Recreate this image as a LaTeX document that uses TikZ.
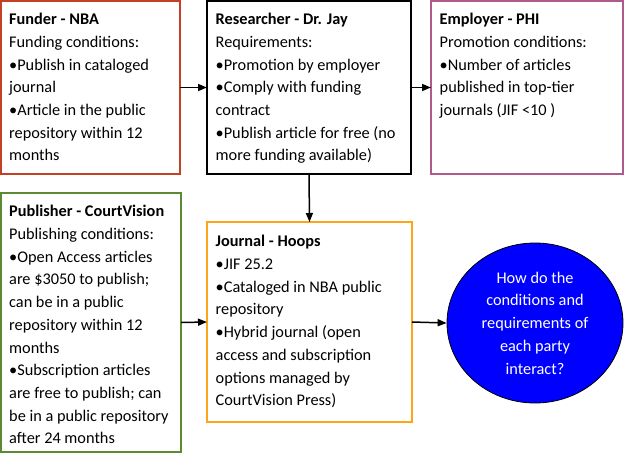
\documentclass[tikz,border=0pt]{standalone}
\usepackage{fontspec}
\setmainfont{Carlito}
\usetikzlibrary{arrows.meta,shapes.geometric}
\definecolor{fundred}{HTML}{C44024}
\definecolor{pubgreen}{HTML}{5A8A32}
\definecolor{emppink}{HTML}{B05A8C}
\definecolor{jrnorange}{HTML}{FFA31A}
\definecolor{qblue}{HTML}{0000FF}
\begin{document}
\begin{tikzpicture}[x=1pt,y=-1pt,
  box/.style={draw,line width=2pt,inner sep=0pt,outer sep=0pt},
  txt/.style={anchor=north west,align=left,inner sep=0pt,
    font=\fontsize{16.3}{22.7}\selectfont},
  conn/.style={line width=1.5pt,-{Triangle[length=9pt,width=7pt]}}]
\useasboundingbox (0,0) rectangle (624,453);
% boxes
\node[box,draw=fundred,minimum width=179pt,minimum height=173pt] (funder) at (90.5,87.5) {};
\node[box,draw=black,minimum width=204pt,minimum height=173pt] (res) at (309,87.5) {};
\node[box,draw=emppink,minimum width=192pt,minimum height=173pt] (emp) at (527,87.5) {};
\node[box,draw=pubgreen,minimum width=180pt,minimum height=259pt] (pub) at (91,322.5) {};
\node[box,draw=jrnorange,minimum width=205pt,minimum height=200pt] (jrn) at (309.5,322) {};
\node[draw=black,line width=0.8pt,fill=qblue,ellipse,minimum width=176pt,minimum height=160pt,inner sep=0pt,
  text=white,align=center,font=\fontsize{16.3}{22.7}\selectfont] (q) at (535,323)
  {How do the\\conditions and\\requirements of\\each party\\interact?};
% texts
\node[txt] (tfunder) at ([xshift=8pt,yshift=-7.6pt]funder.north west)
 {\strut\textbf{Funder - NBA}\\Funding conditions:\\•Publish in cataloged\\journal\\•Article in the public\\repository within 12\\months};
\node[txt] (tres) at ([xshift=8.5pt,yshift=-7.6pt]res.north west)
 {\strut\textbf{Researcher - Dr. Jay}\\Requirements:\\•Promotion by employer\\•Comply with funding\\contract\\•Publish article for free (no\\more funding available)};
\node[txt] (temp) at ([xshift=8.5pt,yshift=-7.6pt]emp.north west)
 {\strut\textbf{Employer - PHI}\\Promotion conditions:\\•Number of articles\\published in top-tier\\journals (JIF <10 )};
\node[txt] (tpub) at ([xshift=8pt,yshift=-7.8pt]pub.north west)
 {\strut\textbf{Publisher - CourtVision}\\Publishing conditions:\\•Open Access articles\\are \$3050 to publish;\\can be in a public\\repository within 12\\months\\•Subscription articles\\are free to publish; can\\be in a public repository\\after 24 months};
\node[txt] (tjrn) at ([xshift=8.5pt,yshift=-8.8pt]jrn.north west)
 {\strut\textbf{Journal - Hoops}\\•JIF 25.2\\•Cataloged in NBA public\\repository\\•Hybrid journal (open\\access and subscription\\options managed by\\CourtVision Press)};
% connectors
\draw[conn] (funder.east) -- (res.west);
\draw[conn] (res.east) -- (emp.west);
\draw[conn] (res.south) -- (jrn.north);
\draw[conn] (pub.east) -- (jrn.west);
\draw[conn] (jrn.east) -- (q.west);
\end{tikzpicture}
\end{document}
